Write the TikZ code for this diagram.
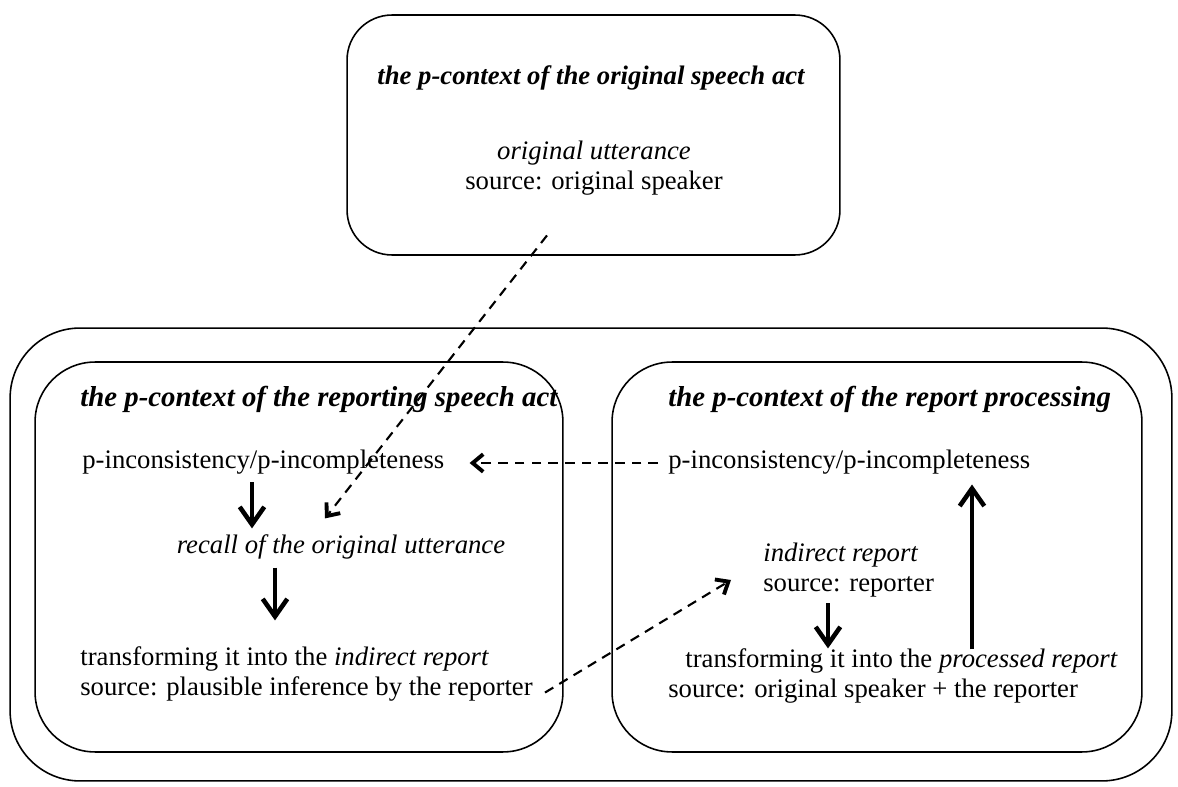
\documentclass[tikz,border=0pt]{standalone}
\usepackage{fontspec}
\setmainfont{Liberation Serif}
\usetikzlibrary{arrows.meta,calc}

\begin{document}
\begin{tikzpicture}[x=0.02cm, y=-0.02cm,
    ctxbox/.style={draw, line width=0.9pt, rounded corners=1.2cm, minimum width=10.56cm, minimum height=7.8cm},
    txt/.style={inner sep=0pt, font=\fontsize{15.2pt}{17pt}\selectfont},
    ttl/.style={txt, font=\fontsize{16.4pt}{17pt}\selectfont\bfseries\itshape},
    solidarrow/.style={line width=2.3pt, -{Straight Barb[length=10pt,width=14pt,line width=2.6pt]}},
    dasharrow/.style={line width=1.2pt, dash pattern=on 5.5pt off 4pt, -{Straight Barb[length=6pt,width=10pt,line width=2.2pt]}}]
    \useasboundingbox (0,0) rectangle (1178,787);

    % the three contexts
    \node[ctxbox, rounded corners=0.9cm, minimum width=9.86cm, minimum height=4.8cm] (origbox) at (593.5,135) {};
    \node[draw, line width=0.9pt, rounded corners=1.4cm, minimum width=23.24cm, minimum height=9.06cm] (outer) at (591,554.5) {};
    \node[ctxbox] (repbox) at (299,557) {};
    \node[ctxbox, minimum width=10.6cm] (procbox) at (877,557) {};

    % original speech act
    \node[ttl, font=\fontsize{15.2pt}{17pt}\selectfont\bfseries\itshape, anchor=base west] (origttl) at (377,85) {the p-context of the original speech act};
    \node[txt, align=center] (orig) at (594,168) {\textit{original utterance}\\source: original speaker};

    % reporting speech act
    \node[ttl, anchor=base west] (repttl) at (80,407) {the p-context of the reporting speech act};
    \node[txt, anchor=west] (linc) at (82,462) {p-inconsistency/p-incompleteness};
    \node[txt] (recall) at (341,547) {\textit{recall of the original utterance}};
    \node[txt, align=left, anchor=west] (ltrans) at (80,674) {transforming it into the \textit{indirect report}\\source: plausible inference by the reporter};

    % report processing
    \node[ttl, anchor=base west] (procttl) at (668,407) {the p-context of the report processing};
    \node[txt, anchor=west] (rinc) at (668,462) {p-inconsistency/p-incompleteness};
    \node[txt, align=left, anchor=west] (indrep) at (763,570) {\textit{indirect report}\\source: reporter};
    \node[txt, align=left, anchor=west] (rtrans) at (668,676) {\hspace*{0.34cm}transforming it into the \textit{processed report}\\source: original speaker + the reporter};

    \draw[solidarrow] (linc.south -| 252,0) ++(0,8) -- ($(recall.north -| 252,0)+(0,-6)$);
    \draw[solidarrow] (recall.south -| 275,0) ++(0,8) -- ($(ltrans.north -| 275,0)+(0,-26)$);
    \draw[solidarrow] (indrep.south -| 828,0) ++(0,6) -- (rtrans.north -| 828,0);
    \draw[solidarrow] (rtrans.north -| 972,0) ++(0,1) -- ($(rinc.south -| 972,0)+(0,10)$);

    \draw[dasharrow] ($(orig.south)+(-47,40)$) -- ($(recall.north)+(-16,-16)$);
    \draw[dasharrow] ($(rinc.west)+(-10,1)$) -- ($(linc.east)+(25,1)$);
    \draw[dasharrow] ($(ltrans.south east)+(12,-9)$) -- ($(indrep.west)+(-32,10)$);
\end{tikzpicture}
\end{document}
